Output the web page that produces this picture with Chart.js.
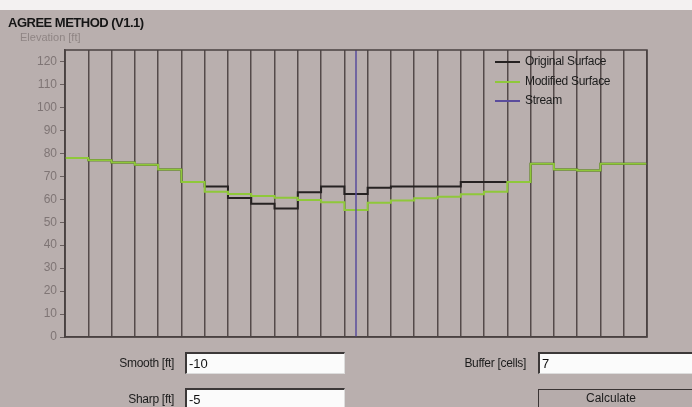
<!DOCTYPE html>
<html>
<head>
<meta charset="utf-8">
<title>AGREE METHOD (V1.1)</title>
<script src="https://cdn.jsdelivr.net/npm/chart.js@4.4.1/dist/chart.umd.min.js"></script>
<style>
  html, body { margin: 0; padding: 0; }
  body {
    width: 692px; height: 407px; overflow: hidden; position: relative;
    background: #b9afae;
    font-family: "Liberation Sans", Arial, sans-serif;
  }
  #topband { position: absolute; left: 0; top: 0; width: 692px; height: 10px; background: #f3f1f1; }
  #chartBox { position: absolute; left: 0; top: 0; width: 692px; height: 407px; }
  .txt { position: absolute; white-space: nowrap; }
  #title { left: 8px; top: 15px; font-size: 13px; font-weight: bold; color: #151515; letter-spacing: -0.5px; }
  #ylabel { left: 20px; top: 31px; font-size: 11px; color: #8f8584; }
  .leg { position: absolute; left: 495px; width: 150px; height: 14px; font-size: 12px; color: #1c1c1c; letter-spacing: -0.3px; white-space: nowrap; }
  .leg span.ln { position: absolute; left: 0; top: 7px; width: 25px; height: 0; border-top: 2px solid; }
  .leg span.lb { position: absolute; left: 30px; top: 0; }
  .lbl { position: absolute; font-size: 12px; color: #1c1c1c; text-align: right; letter-spacing: -0.3px; white-space: nowrap; }
  .box {
    position: absolute; background: #fbfbfb; font-size: 13px; color: #111;
    border-top: 2px solid #3c3838; border-left: 2px solid #3c3838;
    border-right: 1px solid #ddd; border-bottom: 1px solid #ddd;
    box-sizing: border-box; padding-left: 2px; line-height: 19px;
  }
  #calc {
    position: absolute; left: 538px; top: 389px; width: 160px; height: 22px;
    box-sizing: border-box; border: 1.5px solid #3a3434; background: #b6acab;
    font-size: 12px; color: #1c1c1c; text-align: center; line-height: 17px; padding-right: 14px;
  }
</style>
</head>
<body>
<div id="topband"></div>
<div id="chartBox"><canvas id="agreeChart" width="692" height="407"></canvas></div>
<div class="txt" id="title">AGREE METHOD (V1.1)</div>
<div class="txt" id="ylabel">Elevation [ft]</div>
<div id="legend"></div>

<div class="lbl" style="left:100px; top:356px; width:74px;">Smooth [ft]</div>
<div class="box" style="left:185px; top:352px; width:160px; height:22px;">-10</div>
<div class="lbl" style="left:100px; top:392px; width:74px;">Sharp [ft]</div>
<div class="box" style="left:185px; top:388px; width:160px; height:22px;">-5</div>
<div class="lbl" style="left:440px; top:356px; width:86px;">Buffer [cells]</div>
<div class="box" style="left:538px; top:352px; width:160px; height:22px;">7</div>
<div id="calc">Calculate</div>

<script>
// cells across the cross section (25 cells, stream in the middle one)
const cells = [0, 1, 2, 3, 4, 5, 6, 7, 8, 9, 10, 11, 12, 13, 14, 15, 16, 17, 18, 19, 20, 21, 22, 23, 24];
const originalElev = [78, 77, 76, 75, 73, 67.5, 65.5, 60.5, 58, 56, 63, 65.5, 62.3, 65, 65.5, 65.5, 65.5, 67.5, 67.5, 67.5, 75.5, 73, 72.5, 75.5, 75.5];
const modifiedElev = [78, 77, 76, 75, 73, 67.5, 63.3, 62.3, 61.4, 60.7, 59.7, 58.7, 55.3, 58.5, 59.4, 60.4, 61.1, 62.2, 63.3, 67.5, 75.5, 73, 72.5, 75.5, 75.5];
const streamX = 12.5;
const yTicks = [0, 5, 10, 15, 20, 25, 30, 35, 40, 45, 50, 55, 60, 65, 70, 75, 80, 85, 90, 95, 100, 105, 110, 115, 120];
const yMax = 125;

const seriesNames = ['Original Surface', 'Modified Surface', 'Stream'];
const seriesColors = ['#262222', '#8fc83a', '#5a4c9c'];

// stepped profile: each cell value held until the next cell edge
function profile(vals) {
    const pts = cells.map((c, i) => ({ x: c, y: vals[i] }));
    pts.push({ x: cells.length, y: vals[vals.length - 1] });
    return pts;
}

// frame round the plot area
const plotFrame = {
    id: 'plotFrame',
    afterDatasetsDraw(chart) {
        const a = chart.chartArea, ctx = chart.ctx;
        ctx.save();
        ctx.strokeStyle = '#4a4242';
        ctx.lineWidth = 1.5;
        ctx.strokeRect(a.left, a.top, a.right - a.left, a.bottom - a.top);
        ctx.restore();
    }
};

const chart = new Chart(document.getElementById('agreeChart'), {
    type: 'line',
    data: {
        datasets: [{
            label: seriesNames[0],
            data: profile(originalElev),
            borderColor: seriesColors[0],
            borderWidth: 2,
            stepped: true,
            pointRadius: 0,
            order: 2
        }, {
            label: seriesNames[1],
            data: profile(modifiedElev),
            borderColor: seriesColors[1],
            borderWidth: 2,
            stepped: true,
            pointRadius: 0,
            order: 1
        }, {
            label: seriesNames[2],
            data: [{ x: streamX, y: 0 }, { x: streamX, y: yMax }],
            borderColor: seriesColors[2],
            borderWidth: 1.5,
            pointRadius: 0,
            order: 0
        }]
    },
    options: {
        responsive: false,
        animation: false,
        layout: { padding: { top: 50, right: 45, bottom: 70, left: 0 } },
        plugins: { legend: { display: false }, tooltip: { enabled: false } },
        scales: {
            x: {
                type: 'linear',
                min: 0,
                max: cells.length,
                ticks: { display: false, stepSize: 1 },
                grid: { color: 'rgba(66,56,56,0.85)', lineWidth: 1.5, drawTicks: false },
                border: { display: true, color: '#4a4242', width: 1.5 },
                afterFit(scale) { scale.height = 0; }
            },
            y: {
                min: 0,
                max: yMax,
                afterBuildTicks(scale) { scale.ticks = yTicks.map(v => ({ value: v })); },
                ticks: {
                    color: '#7f7575',
                    padding: 3,
                    font: { family: 'Liberation Sans', size: 12 },
                    callback: v => (v % 10 === 0 ? String(v) : '')
                },
                grid: { drawOnChartArea: false, tickLength: 5, tickColor: '#6a6060' },
                border: { color: '#4a4242', width: 1.5 },
                afterFit(scale) { scale.width = 65; }
            }
        }
    },
    plugins: [plotFrame]
});

// legend inside the plot, top right
const legend = document.getElementById('legend');
seriesNames.forEach((name, i) => {
    const row = document.createElement('div');
    row.className = 'leg';
    row.style.top = (54 + i * 19.5) + 'px';
    row.innerHTML = '<span class="ln" style="border-color:' + seriesColors[i] + '"></span><span class="lb">' + name + '</span>';
    legend.appendChild(row);
});
</script>
</body>
</html>
